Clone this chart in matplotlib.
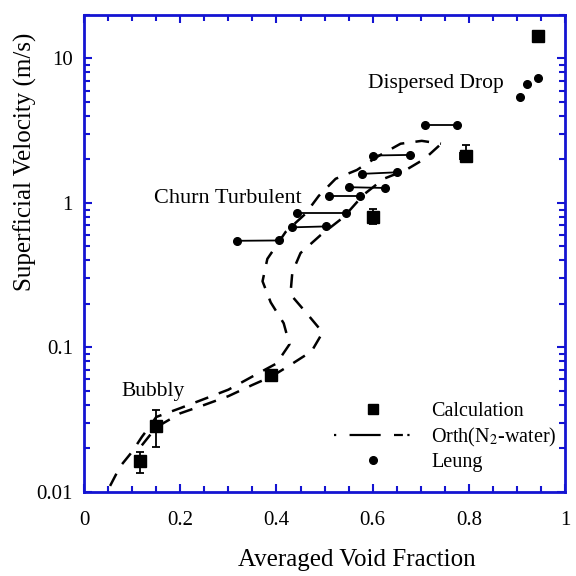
import matplotlib

matplotlib.use("Agg")
import matplotlib.pyplot as plt  # noqa: E402
from matplotlib.ticker import LogLocator, MultipleLocator, FixedLocator, FixedFormatter, NullFormatter  # noqa: E402

BLUE = "#1414d2"

# Calculation (squares with error bars)
calc_x = [0.117, 0.149, 0.388, 0.600, 0.794, 0.943]
calc_y = [0.0164, 0.0287, 0.064, 0.80, 2.13, 14.4]
calc_lo = [0.0135, 0.0203, 0.060, 0.72, 1.95, 14.4]
calc_hi = [0.0189, 0.0370, 0.068, 0.91, 2.50, 14.4]
calc_xerr = [0.0, 0.0, 0.0, 0.0, 0.012, 0.0]

# Leung: horizontal pairs (left x, right x, y left, y right)
leung_x1 = [0.318, 0.433, 0.442, 0.509, 0.551, 0.578, 0.601, 0.708]
leung_x2 = [0.405, 0.504, 0.544, 0.574, 0.625, 0.651, 0.677, 0.776]
leung_y1 = [0.547, 0.678, 0.852, 1.11, 1.285, 1.59, 2.13, 3.48]
leung_y2 = [0.550, 0.688, 0.852, 1.11, 1.270, 1.63, 2.15, 3.48]
# Leung: dispersed drop points
drop_x = [0.906, 0.920, 0.943]
drop_y = [5.38, 6.67, 7.38]

# Orth (N2-water): two branches
orth_a_x = [0.054, 0.075, 0.100, 0.120, 0.135, 0.150, 0.200, 0.250, 0.300, 0.354,
            0.400, 0.427, 0.415, 0.388, 0.371, 0.381, 0.419, 0.460, 0.488, 0.523,
            0.567, 0.613, 0.658, 0.702, 0.742]
orth_a_y = [0.011, 0.015, 0.019, 0.024, 0.028, 0.033, 0.038, 0.044, 0.051, 0.064,
            0.0774, 0.105, 0.147, 0.205, 0.287, 0.41, 0.63, 0.84, 1.12, 1.47,
            1.69, 2.12, 2.57, 2.69, 2.57]
orth_b_x = [0.120, 0.150, 0.200, 0.250, 0.300, 0.350, 0.390, 0.427, 0.473, 0.496,
            0.463, 0.429, 0.433, 0.450, 0.492, 0.540, 0.581, 0.623, 0.669, 0.708,
            0.738]
orth_b_y = [0.021, 0.028, 0.035, 0.040, 0.046, 0.055, 0.063, 0.075, 0.094, 0.127,
            0.172, 0.233, 0.332, 0.45, 0.60, 0.80, 1.14, 1.47, 1.69, 2.02,
            2.49]

plt.rcParams["font.family"] = ["Liberation Serif", "DejaVu Serif"]
plt.rcParams["mathtext.fontset"] = "stix"

fig = plt.figure(figsize=(5.76, 5.76), dpi=100)
ax = fig.add_axes([0.146, 0.146, 0.835, 0.828])

dash = (0, (5.5, 4.5))
ax.plot(orth_a_x, orth_a_y, color="black", lw=1.8, linestyle=dash)
ax.plot(orth_b_x, orth_b_y, color="black", lw=1.8, linestyle=dash)

for x1, x2, y1, y2 in zip(leung_x1, leung_x2, leung_y1, leung_y2):
    ax.plot([x1, x2], [y1, y2], color="black", lw=1.3, marker="o", ms=5.5)
ax.plot(drop_x, drop_y, "o", color="black", ms=5.5)

yerr = [[c - lo for c, lo in zip(calc_y, calc_lo)], [hi - c for c, hi in zip(calc_y, calc_hi)]]
ax.errorbar(calc_x, calc_y, yerr=yerr, xerr=calc_xerr, fmt="s", color="black",
            ms=8, elinewidth=1.3, capsize=3, capthick=1.3)

# legend proxies
h_calc, = ax.plot([], [], "s", color="black", ms=7.5)
h_orth, = ax.plot([], [], color="black", lw=1.6, linestyle=(0, (1, 6, 14, 6, 4, 2)))
h_leung, = ax.plot([], [], "o", color="black", ms=5.5)
leg = ax.legend([h_calc, h_orth, h_leung],
                ["Calculation", "Orth(N$_2$-water)", "Leung"],
                loc="lower right", bbox_to_anchor=(1.02, 0.003), frameon=False,
                fontsize=14.5, handlelength=3.8, handletextpad=1.0, labelspacing=0.22)

ax.text(0.59, 6.7, "Dispersed Drop", fontsize=15.5, va="center", ha="left")
ax.text(0.146, 1.07, "Churn Turbulent", fontsize=16, va="center", ha="left")
ax.text(0.077, 0.0495, "Bubbly", fontsize=15.5, va="center", ha="left")

ax.set_yscale("log")
ax.set_xlim(0, 1)
ax.set_ylim(0.01, 20)

ax.xaxis.set_major_locator(FixedLocator([0, 0.2, 0.4, 0.6, 0.8, 1.0]))
ax.xaxis.set_major_formatter(FixedFormatter(["0", "0.2", "0.4", "0.6", "0.8", "1"]))
ax.xaxis.set_minor_locator(MultipleLocator(0.05))
ax.yaxis.set_major_locator(FixedLocator([0.01, 0.1, 1, 10]))
ax.yaxis.set_major_formatter(FixedFormatter(["0.01", "0.1", "1", "10"]))
ax.yaxis.set_minor_locator(LogLocator(base=10, subs=range(2, 10)))
ax.yaxis.set_minor_formatter(NullFormatter())

ax.tick_params(which="both", direction="in", top=True, right=True,
               color=BLUE, width=1.5, labelsize=15, labelcolor="black")
ax.tick_params(axis="x", which="major", pad=14)
ax.tick_params(axis="y", which="major", pad=8)
ax.tick_params(which="major", length=6)
ax.tick_params(which="minor", length=4)
for s in ax.spines.values():
    s.set_color(BLUE)
    s.set_linewidth(2)

# axis titles sit off-centre in the original
fig.text(357 / 576, 1 - 560 / 576, "Averaged Void Fraction", fontsize=18,
         ha="center", va="center")
fig.text(25 / 576, 1 - 162 / 576, "Superficial Velocity (m/s)", fontsize=18,
         ha="center", va="center", rotation=90)

fig.savefig("out.png", dpi=100, facecolor="white")
